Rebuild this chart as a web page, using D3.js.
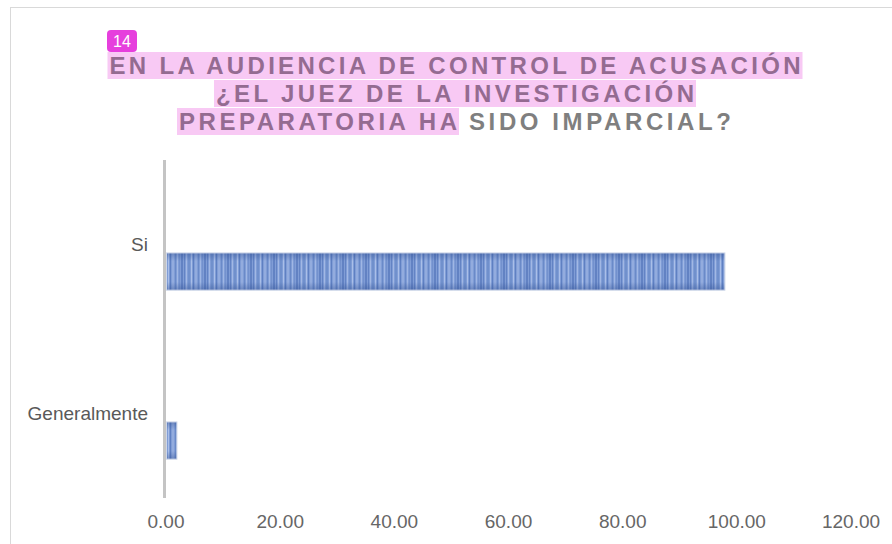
<!DOCTYPE html>
<html>
<head>
<meta charset="utf-8">
<script src="https://cdn.jsdelivr.net/npm/d3@7"></script>
<style>
  html, body { margin: 0; padding: 0; background: #fff; }
  svg { display: block; }
</style>
</head>
<body>
<svg id="chart" width="892" height="544"></svg>
<script>
// ---- data ----
const categories = ["Si", "Generalmente"];
const values = [98.0, 2.0];
const tickValues = [0, 20, 40, 60, 80, 100, 120];
const badgeText = "14";
const titleLines = [
  [{ t: "EN LA AUDIENCIA DE CONTROL DE ACUSACIÓN", hl: true }],
  [{ t: "¿EL JUEZ DE LA INVESTIGACIÓN", hl: true }],
  [{ t: "PREPARATORIA HA", hl: true }, { t: "SIDO IMPARCIAL?", hl: false }]
];

// ---- layout ----
const svg = d3.select("#chart");
const font = "'Liberation Sans', Arial, Helvetica, sans-serif";

// frame
svg.append("rect").attr("x", 10.5).attr("y", 7.5).attr("width", 900).attr("height", 560)
  .attr("fill", "#fff").attr("stroke", "#d9d9d9").attr("stroke-width", 1);

// defs: bar texture
const defs = svg.append("defs");
const pat = defs.append("pattern").attr("id", "stripes").attr("patternUnits", "userSpaceOnUse")
  .attr("width", 23).attr("height", 60);
pat.append("rect").attr("width", 23).attr("height", 60).attr("fill", "#809dd6");
const stripeSpec = [[0,1,"#6383c4"],[2,1,"#a2b8e4"],[4,2,"#7090cc"],[7,1,"#aabfe8"],[9,1,"#5f80c2"],
  [11,2,"#93acde"],[14,1,"#6a8ac8"],[16,1,"#a0b7e4"],[18,1,"#7391cd"],[20,2,"#6282c3"]];
stripeSpec.forEach(s => pat.append("rect").attr("x", s[0]).attr("y", 0).attr("width", s[1]).attr("height", 60).attr("fill", s[2]));
const vg = defs.append("linearGradient").attr("id", "shade").attr("x1", 0).attr("y1", 0).attr("x2", 0).attr("y2", 1);
vg.append("stop").attr("offset", "0").attr("stop-color", "#2c4a8c").attr("stop-opacity", 0.4);
vg.append("stop").attr("offset", "0.22").attr("stop-color", "#2c4a8c").attr("stop-opacity", 0.0);
vg.append("stop").attr("offset", "0.78").attr("stop-color", "#2c4a8c").attr("stop-opacity", 0.0);
vg.append("stop").attr("offset", "1").attr("stop-color", "#2c4a8c").attr("stop-opacity", 0.4);

// scales
const x = d3.scaleLinear().domain([0, 120]).range([165.5, 850.5]);
const y = d3.scaleBand().domain(categories).range([160, 498]).padding(0);
const bw = y.bandwidth();

// bars
const bars = svg.append("g");
categories.forEach((c, i) => {
  const by = y(c) + bw * 0.55, bh = bw * 0.22;
  const x0 = x(0) + 1, w = x(values[i]) - x(0) - 1;
  bars.append("rect").attr("x", x0).attr("y", by).attr("width", w).attr("height", bh)
    .attr("fill", "url(#stripes)");
  bars.append("rect").attr("x", x0).attr("y", by).attr("width", w).attr("height", bh)
    .attr("fill", "url(#shade)").attr("stroke", "#cdd6e8").attr("stroke-width", 1);
});

// axis line
svg.append("line").attr("x1", x(0) - 1).attr("x2", x(0) - 1).attr("y1", 160).attr("y2", 498)
  .attr("stroke", "#c4c4c4").attr("stroke-width", 3);

// x tick labels via axis
const xAxis = d3.axisBottom(x).tickValues(tickValues).tickFormat(d3.format(".2f")).tickSize(0).tickPadding(0);
const gx = svg.append("g").attr("transform", "translate(0,514)").call(xAxis);
gx.select(".domain").remove();
gx.selectAll("text").attr("font-family", font).attr("font-size", 19).attr("fill", "#666")
  .attr("dy", "0.71em");

// y labels via axis
const yAxis = d3.axisLeft(y).tickSize(0).tickPadding(0);
const gy = svg.append("g").attr("transform", "translate(148,0)").call(yAxis);
gy.select(".domain").remove();
gy.selectAll("text").attr("font-family", font).attr("font-size", 19).attr("fill", "#595959")
  .attr("dy", "0.35em");

// title
const tg = svg.append("g");
const baselines = [74, 102, 130];
const hlTop = [52, 80, 108];
const cx = 455;
const segWidths = [[691], [478], [278, 262]];
const gap = 12;
titleLines.forEach((line, li) => {
  const ws = segWidths[li];
  const total = ws.reduce((a, b) => a + b, 0) + gap * (ws.length - 1);
  let sx = cx - total / 2;
  line.forEach((seg, si) => {
    const w = ws[si];
    if (seg.hl) {
      tg.append("rect").attr("x", sx - 2).attr("y", hlTop[li]).attr("width", w + 4).attr("height", 27)
        .attr("fill", "#f8c9f4");
    }
    tg.append("text").attr("x", sx).attr("y", baselines[li])
      .attr("font-family", font).attr("font-weight", "bold").attr("font-size", 24)
      .attr("textLength", w).attr("lengthAdjust", "spacing")
      .attr("fill", seg.hl ? "#946b91" : "#7f7f7f")
      .text(seg.t);
    sx += w + gap;
  });
});

// badge
svg.append("rect").attr("x", 107).attr("y", 30).attr("width", 30).attr("height", 22).attr("rx", 4)
  .attr("fill", "#e63fdd");
svg.append("text").attr("x", 122).attr("y", 47).attr("text-anchor", "middle")
  .attr("font-family", font).attr("font-size", 16).attr("fill", "#fff").text(badgeText);
</script>
</body>
</html>
